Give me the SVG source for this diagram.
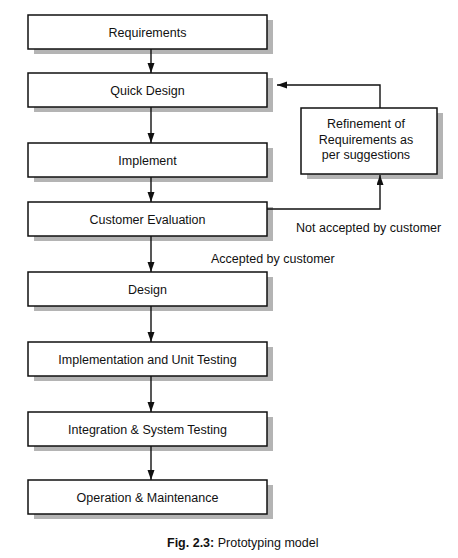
<svg xmlns="http://www.w3.org/2000/svg" width="458" height="558" viewBox="0 0 458 558">
<defs>
<style>
.shadow{fill:#b4b4b4;}
.box{fill:#fff;stroke:#111;stroke-width:1.5;}
.lbl{font-family:"Liberation Sans",Arial,sans-serif;font-size:12.5px;fill:#111;text-anchor:middle;}
.note{font-family:"Liberation Sans",Arial,sans-serif;font-size:12.5px;fill:#111;}
.edge{fill:none;stroke:#111;stroke-width:1.4;}
</style>
<marker id="ah" markerUnits="userSpaceOnUse" markerWidth="12" markerHeight="10" refX="10" refY="3.5" orient="auto">
<path d="M0,0 L10,3.5 L0,7 Z" fill="#111"/>
</marker>
</defs>
<rect width="458" height="558" fill="#fff"/>
<g id="requirements">
<rect class="shadow" x="34" y="20" width="239" height="34"/>
<rect class="box" x="28" y="15" width="239" height="34"/>
<text class="lbl" x="147.5" y="36.5">Requirements</text>
</g>
<g id="quick-design">
<rect class="shadow" x="34" y="78" width="239" height="34"/>
<rect class="box" x="28" y="73" width="239" height="34"/>
<text class="lbl" x="147.5" y="94.5">Quick Design</text>
</g>
<g id="implement">
<rect class="shadow" x="34" y="148" width="239" height="34"/>
<rect class="box" x="28" y="143" width="239" height="34"/>
<text class="lbl" x="147.5" y="164.5">Implement</text>
</g>
<g id="customer-evaluation">
<rect class="shadow" x="34" y="207" width="239" height="34"/>
<rect class="box" x="28" y="202" width="239" height="34"/>
<text class="lbl" x="147.5" y="223.5">Customer Evaluation</text>
</g>
<g id="design">
<rect class="shadow" x="34" y="277" width="239" height="34"/>
<rect class="box" x="28" y="272" width="239" height="34"/>
<text class="lbl" x="147.5" y="293.5">Design</text>
</g>
<g id="implementation-unit-testing">
<rect class="shadow" x="34" y="347" width="239" height="34"/>
<rect class="box" x="28" y="342" width="239" height="34"/>
<text class="lbl" x="147.5" y="363.5">Implementation and Unit Testing</text>
</g>
<g id="integration-system-testing">
<rect class="shadow" x="34" y="417" width="239" height="34"/>
<rect class="box" x="28" y="412" width="239" height="34"/>
<text class="lbl" x="147.5" y="433.5">Integration &amp; System Testing</text>
</g>
<g id="operation-maintenance">
<rect class="shadow" x="34" y="485" width="239" height="34"/>
<rect class="box" x="28" y="480" width="239" height="34"/>
<text class="lbl" x="147.5" y="501.5">Operation &amp; Maintenance</text>
</g>
<g id="refinement">
<rect class="shadow" x="307" y="113" width="136" height="66"/>
<rect class="box" x="301" y="108" width="136" height="66"/>
<text class="lbl" x="366" y="128">Refinement of</text>
<text class="lbl" x="366" y="143.5">Requirements as</text>
<text class="lbl" x="366" y="159">per suggestions</text>
</g>
<g id="connectors">
<line class="edge" x1="151" y1="49" x2="151" y2="73" marker-end="url(#ah)"/>
<line class="edge" x1="151" y1="107" x2="151" y2="143" marker-end="url(#ah)"/>
<line class="edge" x1="151" y1="177" x2="151" y2="202" marker-end="url(#ah)"/>
<line class="edge" x1="151" y1="236" x2="151" y2="272" marker-end="url(#ah)"/>
<line class="edge" x1="151" y1="306" x2="151" y2="342" marker-end="url(#ah)"/>
<line class="edge" x1="151" y1="376" x2="151" y2="412" marker-end="url(#ah)"/>
<line class="edge" x1="151" y1="446" x2="151" y2="480" marker-end="url(#ah)"/>
<polyline class="edge" points="267,209 380,209 380,175" marker-end="url(#ah)"/>
<polyline class="edge" points="380,108 380,85 277,85" marker-end="url(#ah)"/>
</g>
<g id="labels">
<text class="note" x="296" y="232">Not accepted by customer</text>
<text class="note" x="211" y="263">Accepted by customer</text>
<text class="note" x="167" y="547"><tspan font-weight="bold">Fig. 2.3:</tspan> Prototyping model</text>
</g>
</svg>
